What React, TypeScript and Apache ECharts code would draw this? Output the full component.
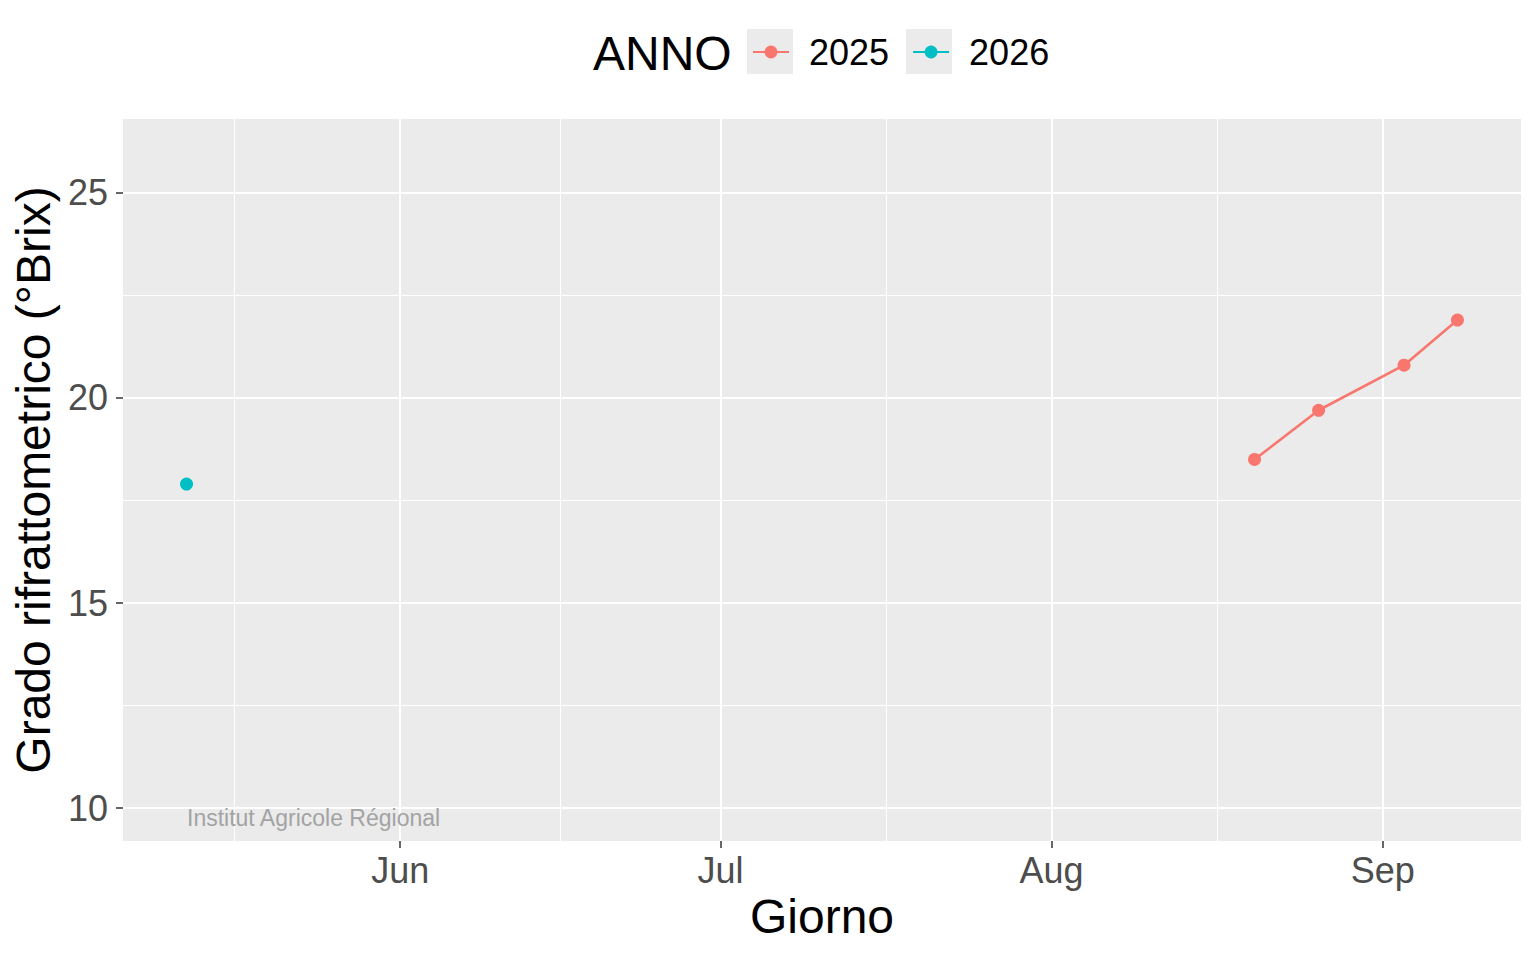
import React, { useEffect, useRef } from "react";
import * as echarts from "echarts";

// ---- data (all dates mapped onto a common reference year) ----
const series2025Dates = ["2025-08-20", "2025-08-26", "2025-09-03", "2025-09-08"];
const series2025Values = [18.5, 19.7, 20.8, 21.9];
const series2026Dates = ["2025-05-12"];
const series2026Values = [17.9];

const xTickDates = ["2025-06-01", "2025-07-01", "2025-08-01", "2025-09-01"];
const xTickLabels = ["Jun", "Jul", "Aug", "Sep"];
const xMinorRefDates = ["2025-05-01", "2025-06-01", "2025-07-01", "2025-08-01", "2025-09-01"];

const yTicks = [10, 15, 20, 25];
const yMinorTicks = [12.5, 17.5, 22.5];
const yLimits = [10, 26];

const legendNames = ["2025", "2026"];
const colors = ["#F8766D", "#00BFC4"];

const FONT = "'Liberation Sans', Arial, Helvetica, sans-serif";

function ts(s: string): number {
  const [y, m, d] = s.split("-").map(Number);
  return Date.UTC(y, m - 1, d);
}

export default function App() {
  const ref = useRef<HTMLDivElement>(null);

  useEffect(() => {
    if (!ref.current) return;
    const chart = echarts.init(ref.current, undefined, { renderer: "svg" });

    const allTs = [...series2025Dates, ...series2026Dates].map(ts);
    const dMin = Math.min(...allTs);
    const dMax = Math.max(...allTs);
    const xPad = (dMax - dMin) * 0.05;
    const xMin = dMin - xPad;
    const xMax = dMax + xPad;

    const yPad = (yLimits[1] - yLimits[0]) * 0.05;
    const yMin = yLimits[0] - yPad;
    const yMax = yLimits[1] + yPad;

    const majorX = xTickDates.map(ts);
    const minorX: number[] = [];
    for (let i = 0; i < xMinorRefDates.length - 1; i++) {
      const a = ts(xMinorRefDates[i]);
      const b = ts(xMinorRefDates[i + 1]);
      const mid = (a + b) / 2;
      if (mid >= xMin && mid <= xMax) minorX.push(mid);
    }

    const monthLabel = (v: number) => {
      const idx = majorX.findIndex((t) => Math.abs(t - v) < 3600 * 1000 * 12);
      return idx >= 0 ? xTickLabels[idx] : "";
    };

    const tickStyle = { color: "#333333", width: 1.5 };

    const option: any = {
      animation: false,
      backgroundColor: "#FFFFFF",
      textStyle: { fontFamily: FONT },
      grid: {
        left: 123,
        right: 15,
        top: 119,
        bottom: 119,
        show: true,
        backgroundColor: "#EBEBEB",
        borderWidth: 0,
        containLabel: false,
      },
      xAxis: [
        {
          type: "value",
          min: xMin,
          max: xMax,
          scale: true,
          name: "Giorno",
          nameLocation: "middle",
          nameGap: 46,
          nameTextStyle: { fontSize: 48, color: "#000000", fontFamily: FONT },
          axisLine: { show: false },
          axisTick: { show: true, length: 7, inside: false, lineStyle: tickStyle, customValues: majorX },
          axisLabel: {
            show: true,
            customValues: majorX,
            formatter: (v: number) => monthLabel(v),
            fontSize: 36,
            color: "#4D4D4D",
            margin: 11,
            fontFamily: FONT,
          },
          splitLine: { show: true, lineStyle: { color: "#FFFFFF", width: 2 } },
          z: 2,
        },
        {
          type: "value",
          min: xMin,
          max: xMax,
          scale: true,
          position: "bottom",
          axisLine: { show: false },
          axisTick: { show: false, customValues: minorX },
          axisLabel: { show: false, customValues: minorX },
          splitLine: { show: true, lineStyle: { color: "#FFFFFF", width: 1 } },
          z: 1,
        },
      ],
      yAxis: [
        {
          type: "value",
          min: yMin,
          max: yMax,
          name: "Grado rifrattometrico (°Brix)",
          nameLocation: "middle",
          nameGap: 62,
          nameTextStyle: { fontSize: 48, color: "#000000", fontFamily: FONT },
          axisLine: { show: false },
          axisTick: { show: true, length: 7, inside: false, lineStyle: tickStyle, customValues: yTicks },
          axisLabel: {
            show: true,
            customValues: yTicks,
            fontSize: 36,
            color: "#4D4D4D",
            margin: 15,
            fontFamily: FONT,
          },
          splitLine: { show: true, lineStyle: { color: "#FFFFFF", width: 2 } },
          z: 2,
        },
        {
          type: "value",
          min: yMin,
          max: yMax,
          position: "left",
          axisLine: { show: false },
          axisTick: { show: false, customValues: yMinorTicks },
          axisLabel: { show: false, customValues: yMinorTicks },
          splitLine: { show: true, lineStyle: { color: "#FFFFFF", width: 1 } },
          z: 1,
        },
      ],
      legend: {
        show: true,
        data: legendNames,
        left: 752,
        top: 34,
        padding: 0,
        itemWidth: 36,
        itemHeight: 16,
        itemGap: 23,
        z: 10,
        textStyle: {
          fontSize: 36,
          color: "#000000",
          fontFamily: FONT,
          padding: [0, 0, 0, 15],
        },
      },
      graphic: [
        {
          type: "rect",
          z: 0,
          shape: { x: 747, y: 29, width: 46, height: 45 },
          style: { fill: "#EBEBEB" },
          silent: true,
        },
        {
          type: "rect",
          z: 0,
          shape: { x: 906, y: 29, width: 46, height: 45 },
          style: { fill: "#EBEBEB" },
          silent: true,
        },
        {
          type: "text",
          z: 10,
          x: 593,
          y: 53.4,
          style: {
            text: "ANNO",
            font: `48px ${FONT}`,
            fill: "#000000",
            align: "left",
            verticalAlign: "middle",
          },
        },
        {
          type: "text",
          z: 10,
          x: 187,
          y: 818,
          style: {
            text: "Institut Agricole Régional",
            font: `23px ${FONT}`,
            fill: "#A3A3A3",
            align: "left",
            verticalAlign: "middle",
          },
        },
      ],
      series: [
        {
          name: legendNames[0],
          type: "line",
          xAxisIndex: 0,
          yAxisIndex: 0,
          data: series2025Dates.map((d, i) => [ts(d), series2025Values[i]]),
          symbol: "circle",
          symbolSize: 13,
          showSymbol: true,
          itemStyle: { color: colors[0] },
          lineStyle: { color: colors[0], width: 2.6 },
          z: 5,
        },
        {
          name: legendNames[1],
          type: "line",
          xAxisIndex: 0,
          yAxisIndex: 0,
          data: series2026Dates.map((d, i) => [ts(d), series2026Values[i]]),
          symbol: "circle",
          symbolSize: 13,
          showSymbol: true,
          itemStyle: { color: colors[1] },
          lineStyle: { color: colors[1], width: 2.6 },
          z: 5,
        },
      ],
    };

    chart.setOption(option);
    return () => {
      chart.dispose();
    };
  }, []);

  return (
    <div
      ref={ref}
      style={{ position: "fixed", left: 0, top: 0, width: 1536, height: 960, background: "#FFFFFF" }}
    />
  );
}
